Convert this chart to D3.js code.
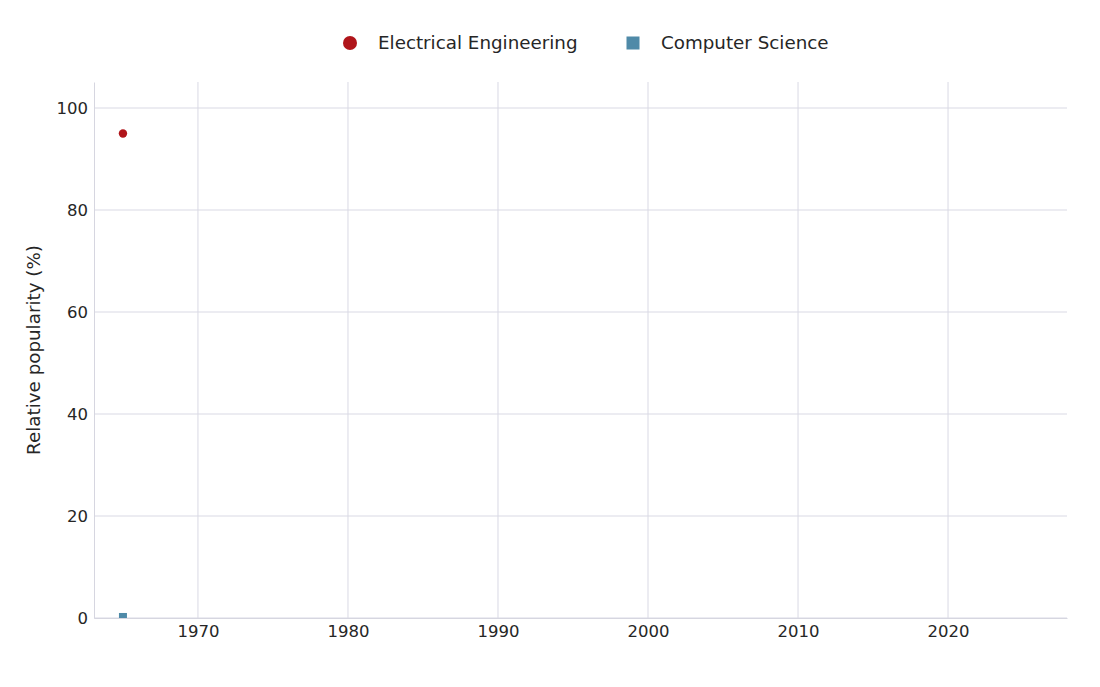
<!DOCTYPE html>
<html>
<head>
<meta charset="utf-8">
<script src="https://cdn.jsdelivr.net/npm/d3@7"></script>
<style>
  body { margin: 0; background: #fff; }
  text { font-family: "DejaVu Sans", sans-serif; fill: #262626; }
</style>
</head>
<body>
<svg id="chart" width="1100" height="687"></svg>
<script>
(function () {
  'use strict';

  const years = [1965];
  const eeValues = [95];
  const csValues = [0.2];
  const xTicks = [1970, 1980, 1990, 2000, 2010, 2020];
  const yTicks = [0, 20, 40, 60, 80, 100];
  const seriesNames = ['Electrical Engineering', 'Computer Science'];
  const seriesColors = ['#b0151a', '#4f8aa8'];

  const W = 1100, H = 687;
  const margin = { top: 82, right: 33, bottom: 69, left: 94 };
  const iw = W - margin.left - margin.right;
  const ih = H - margin.top - margin.bottom;

  const svg = d3.select('#chart');
  const g = svg.append('g').attr('transform', `translate(${margin.left},${margin.top})`);

  const x = d3.scaleLinear().domain([1963.07, 2027.93]).range([0, iw]);
  const y = d3.scaleLinear().domain([0, 105.1]).range([ih, 0]);

  svg.append('defs').append('clipPath').attr('id', 'plotclip')
    .append('rect').attr('width', iw).attr('height', ih);

  // grid
  g.append('g').selectAll('line').data(xTicks).enter().append('line')
    .attr('x1', (d) => x(d)).attr('x2', (d) => x(d)).attr('y1', 0).attr('y2', ih)
    .attr('stroke', '#d9d9e4').attr('stroke-width', 1);
  g.append('g').selectAll('line').data(yTicks).enter().append('line')
    .attr('x1', 0).attr('x2', iw).attr('y1', (d) => y(d)).attr('y2', (d) => y(d))
    .attr('stroke', '#d9d9e4').attr('stroke-width', 1);

  // axes
  const xAxis = g.append('g').attr('transform', `translate(0,${ih})`)
    .call(d3.axisBottom(x).tickValues(xTicks).tickFormat(d3.format('d')).tickSize(0).tickPadding(7));
  const yAxis = g.append('g')
    .call(d3.axisLeft(y).tickValues(yTicks).tickSize(0).tickPadding(6));
  [xAxis, yAxis].forEach((ax) => {
    ax.select('.domain').attr('stroke', '#d6d6e0');
    ax.selectAll('text').style('font-family', '"DejaVu Sans", sans-serif')
      .style('font-size', '16.5px').attr('fill', '#262626');
  });

  svg.append('text')
    .attr('transform', `translate(40,${margin.top + ih / 2}) rotate(-90)`)
    .attr('text-anchor', 'middle')
    .style('font-size', '18.3px')
    .text('Relative popularity (%)');

  // marks
  const marks = g.append('g').attr('clip-path', 'url(#plotclip)');
  marks.selectAll('circle').data(years).enter().append('circle')
    .attr('cx', (d) => x(d)).attr('cy', (d, i) => y(eeValues[i]))
    .attr('r', 4.2).attr('fill', seriesColors[0]);
  const sq = 8;
  marks.selectAll('rect').data(years).enter().append('rect')
    .attr('x', (d) => x(d) - sq / 2).attr('y', (d, i) => y(csValues[i]) - sq / 2)
    .attr('width', sq).attr('height', sq).attr('fill', seriesColors[1]);

  // legend
  const legend = svg.append('g').attr('transform', 'translate(0,43)');
  legend.append('circle').attr('cx', 350).attr('cy', 0).attr('r', 7).attr('fill', seriesColors[0]);
  legend.append('text').attr('x', 378).attr('y', 0).attr('dy', '0.35em')
    .style('font-size', '18.3px').text(seriesNames[0]);
  legend.append('rect').attr('x', 626.5).attr('y', -6.5).attr('width', 13).attr('height', 13)
    .attr('fill', seriesColors[1]);
  legend.append('text').attr('x', 661).attr('y', 0).attr('dy', '0.35em')
    .style('font-size', '18.3px').text(seriesNames[1]);
})();
</script>
</body>
</html>
